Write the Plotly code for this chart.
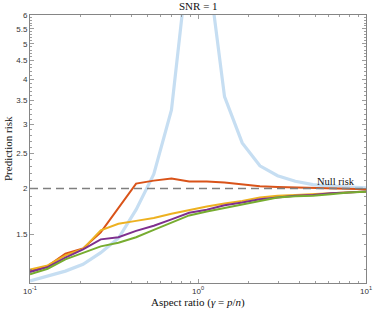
import plotly.graph_objects as go

# aspect ratio grid (gamma = p/n)
gamma = [0.1, 0.1274, 0.1624, 0.2069, 0.2637, 0.336, 0.4281, 0.5456, 0.6952, 0.8859,
         1.1288, 1.4384, 1.833, 2.336, 2.976, 3.793, 4.833, 6.158, 7.848, 10.0]

risk_blue = [1.115, 1.148, 1.186, 1.238, 1.333, 1.46, 1.75, 2.19, 3.29, 8.96,
             8.6, 3.58, 2.67, 2.31, 2.17, 2.095, 2.05, 2.03, 2.02, 2.01]
risk_orange = [1.192, 1.224, 1.324, 1.369, 1.515, 1.774, 2.064, 2.103, 2.13, 2.09,
               2.09, 2.077, 2.05, 2.03, 2.02, 2.013, 2.006, 2.0, 2.0, 1.99]
risk_yellow = [1.198, 1.23, 1.31, 1.365, 1.535, 1.60, 1.63, 1.66, 1.705, 1.746,
               1.786, 1.82, 1.85, 1.89, 1.91, 1.92, 1.93, 1.945, 1.957, 1.963]
risk_purple = [1.18, 1.216, 1.291, 1.36, 1.45, 1.47, 1.53, 1.58, 1.645, 1.716,
               1.75, 1.80, 1.83, 1.87, 1.89, 1.91, 1.92, 1.94, 1.95, 1.963]
risk_green = [1.163, 1.204, 1.278, 1.328, 1.387, 1.42, 1.47, 1.54, 1.614, 1.687,
              1.73, 1.77, 1.81, 1.85, 1.89, 1.905, 1.91, 1.93, 1.95, 1.96]

null_risk = 2.0
x_range = [0.1, 10.0]

y_tickvals = [1.5, 2, 2.5, 3, 3.5, 4, 4.5, 5, 5.5, 6]
y_ticktext = ["1.5", "2", "2.5", "3", "3.5", "4", "4.5", "5", "5.5", "6"]
y_minor = [1.1, 1.2, 1.3, 1.4, 1.6, 1.7, 1.8, 1.9, 2.1, 2.2, 2.3, 2.4, 2.6, 2.7, 2.8, 2.9,
           3.1, 3.2, 3.3, 3.4, 3.6, 3.7, 3.8, 3.9, 4.1, 4.2, 4.3, 4.4, 4.6, 4.7, 4.8, 4.9,
           5.1, 5.2, 5.3, 5.4, 5.6, 5.7, 5.8, 5.9]
x_tickvals = [0.1, 1, 10]
x_ticktext = ["10<sup>-1</sup>", "10<sup>0</sup>", "10<sup>1</sup>"]
x_minor = [0.2, 0.3, 0.4, 0.5, 0.6, 0.7, 0.8, 0.9, 2, 3, 4, 5, 6, 7, 8, 9]

series = [
    (risk_blue, "#C6DEF2", 3.2),
    (risk_orange, "#D95319", 2),
    (risk_yellow, "#EDB120", 2),
    (risk_purple, "#7E2F8E", 2),
    (risk_green, "#77AC30", 2),
]

fig = go.Figure()
for ys, col, w in series:
    fig.add_trace(go.Scatter(x=gamma, y=ys, mode="lines",
                             line=dict(color=col, width=w), showlegend=False,
                             hoverinfo="skip"))

fig.add_trace(go.Scatter(x=x_range, y=[null_risk, null_risk], mode="lines",
                         line=dict(color="#7f7f7f", width=1.5, dash="8px,5px"),
                         showlegend=False, hoverinfo="skip"))

serif = "Liberation Serif, Times New Roman, serif"
sans = "Liberation Sans, Arial, sans-serif"
axis_col = "#858585"

fig.update_layout(
    width=374, height=311,
    margin=dict(l=30, r=8, t=15, b=28, autoexpand=False),
    paper_bgcolor="white", plot_bgcolor="white",
    showlegend=False, hovermode=False,
    xaxis=dict(
        type="log", range=[-1, 1], automargin=False,
        tickmode="array", tickvals=x_tickvals, ticktext=x_ticktext,
        ticks="inside", ticklen=4, tickcolor=axis_col, tickwidth=0.8,
        showline=True, linecolor=axis_col, linewidth=1, mirror="allticks",
        showgrid=False, zeroline=False,
        tickfont=dict(family=sans, size=8, color="#333333"),
        minor=dict(tickmode="array", tickvals=x_minor, ticks="inside", ticklen=2,
                   tickcolor=axis_col, showgrid=False),
    ),
    yaxis=dict(
        type="log", range=[0.041393, 0.778151], automargin=False,
        tickmode="array", tickvals=y_tickvals, ticktext=y_ticktext,
        ticks="inside", ticklen=4, tickcolor=axis_col, tickwidth=0.8,
        showline=True, linecolor=axis_col, linewidth=1, mirror="allticks",
        showgrid=False, zeroline=False,
        tickfont=dict(family=sans, size=8, color="#333333"),
        minor=dict(tickmode="array", tickvals=y_minor, ticks="inside", ticklen=2,
                   tickcolor=axis_col, showgrid=False),
    ),
    annotations=[
        dict(text="SNR = 1", xref="paper", yref="paper", x=0.5, y=1,
             xanchor="center", yanchor="bottom", showarrow=False, yshift=1,
             font=dict(family=serif, size=11, color="#111111")),
        dict(text="Null risk", xref="x", yref="y", x=0.8208, y=0.30103,
             xanchor="center", yanchor="bottom", showarrow=False, yshift=0,
             font=dict(family=serif, size=10.5, color="#111111")),
        dict(text="Aspect ratio (<i>γ</i> = <i>p</i>/<i>n</i>)", xref="paper", yref="paper",
             x=0.5, y=0, xanchor="center", yanchor="middle", yshift=-19, showarrow=False,
             font=dict(family=serif, size=11, color="#111111")),
        dict(text="Prediction risk", xref="paper", yref="paper",
             x=0, y=0.5, xanchor="center", yanchor="middle", xshift=-22, textangle=-90,
             showarrow=False, font=dict(family=serif, size=11, color="#111111")),
    ],
)

fig.write_html("out.html", config={"displayModeBar": False, "staticPlot": True},
               post_script="document.body.style.margin='0';document.body.style.overflow='hidden';")
